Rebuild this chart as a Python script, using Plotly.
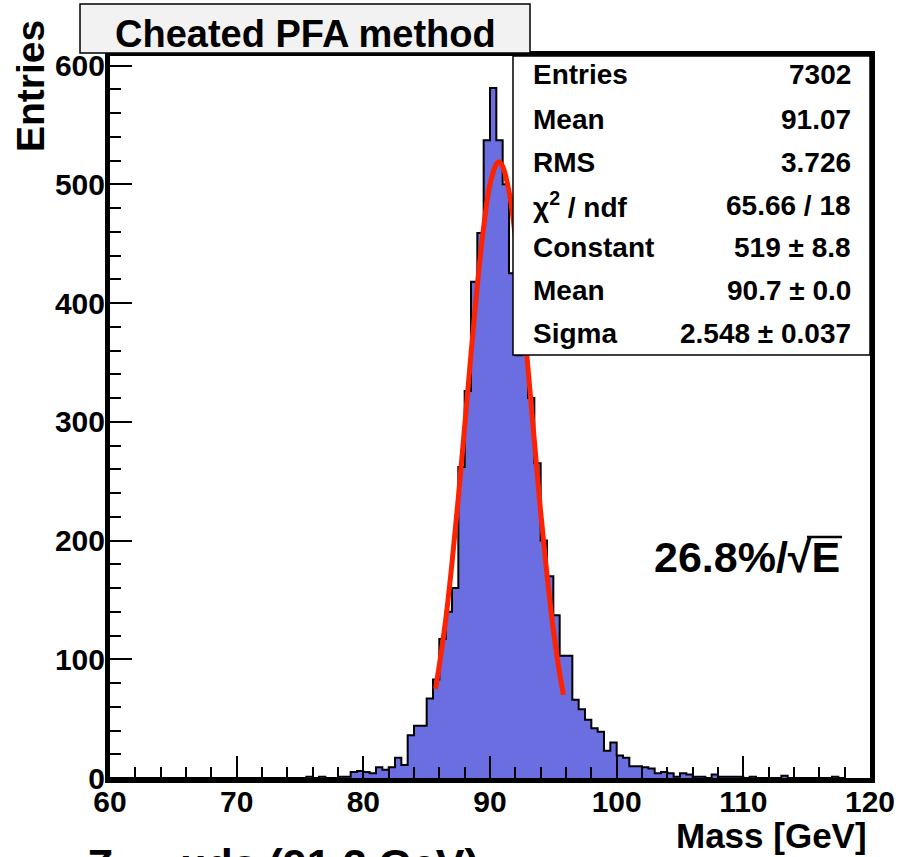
import numpy as np
import plotly.graph_objects as go

# ---------------- data ----------------
bin_edges = np.arange(60.0, 120.0 + 0.25, 0.5)   # 120 bins of 0.5 GeV
counts = [
    0, 0, 0, 0, 0, 0, 0, 0, 0, 0,            # 60.0 - 64.5
    0, 0, 0, 0, 0, 0, 0, 0, 0, 0,            # 65.0 - 69.5
    0, 0, 0, 0, 0, 0, 0, 0, 0, 0,            # 70.0 - 74.5
    0, 1, 0, 1, 0, 0, 1, 1, 5, 6,            # 75.0 - 79.5
    5, 4, 9, 7, 9, 17, 11, 36, 44, 44,       # 80.0 - 84.5
    67, 83, 117, 140, 160, 262, 326, 418, 459, 537,   # 85.0 - 89.5
    581, 537, 500, 425, 356, 365, 320, 265, 200, 170, # 90.0 - 94.5
    137, 103, 103, 66, 58, 49, 42, 39, 23, 30,        # 95.0 - 99.5
    19, 17, 10, 10, 9, 8, 4, 5, 4, 1,        # 100.0 - 104.5
    4, 3, 1, 1, 0, 3, 1, 1, 1, 1,            # 105.0 - 109.5
    0, 1, 0, 0, 0, 0, 2, 0, 0, 0,            # 110.0 - 114.5
    0, 0, 0, 0, 1, 0,                        # 115.0 - 119.5
]
fit_x = [85.7, 86.0, 86.5, 87.0, 87.5, 88.0, 88.5, 89.0, 89.5, 90.0, 90.5, 90.7,
         91.0, 91.5, 92.0, 92.5, 93.0, 93.5, 94.0, 94.5, 95.0, 95.5, 95.8]
fit_y = [75, 95, 133, 181, 236, 296, 357, 415, 464, 500, 517, 519,
         515, 494, 456, 404, 345, 284, 224, 171, 125, 88, 70]

stat_labels = ["Entries", "Mean", "RMS", "χ<sup>2</sup> / ndf", "Constant", "Mean", "Sigma"]
stat_values = ["7302", "91.07", "3.726", "65.66 / 18", "519 ± 8.8", "90.7 ± 0.0", "2.548 ± 0.037"]

x_tick_vals = [60, 70, 80, 90, 100, 110, 120]
y_tick_vals = [0, 100, 200, 300, 400, 500, 600]

# ---------------- layout geometry (pixels) ----------------
W, H = 899, 857
L, R, T, B = 110, 870, 56, 778
FONT = "Liberation Sans, Arial, Helvetica, sans-serif"


def px(x):
    return (x - L) / (R - L)


def py(y):
    return (B - y) / (B - T)


centers = (bin_edges[:-1] + bin_edges[1:]) / 2.0

fig = go.Figure()
fig.add_trace(go.Bar(x=centers, y=counts, width=0.5,
                     marker=dict(color="#6a6ee0", line=dict(width=0)),
                     hoverinfo="skip"))
fig.add_trace(go.Scatter(x=list(bin_edges), y=counts + [counts[-1]], mode="lines",
                         line=dict(color="black", width=2, shape="hv"),
                         hoverinfo="skip"))
fig.add_trace(go.Scatter(x=fit_x, y=fit_y, mode="lines",
                         line=dict(color="#ff2200", width=5, shape="spline"),
                         hoverinfo="skip"))

shapes = []
annotations = []

# title box
shapes.append(dict(type="rect", xref="paper", yref="paper",
                   x0=px(80), x1=px(530), y0=py(53), y1=py(4),
                   line=dict(color="black", width=1.5), fillcolor="#f2f2f2", layer="above"))
annotations.append(dict(xref="paper", yref="paper", x=px(305), y=py(34), text="Cheated PFA method",
                        showarrow=False, xanchor="center", yanchor="middle",
                        font=dict(family=FONT, size=38, color="black", weight="bold")))

# stats box
shapes.append(dict(type="rect", xref="paper", yref="paper",
                   x0=px(513), x1=px(870), y0=py(355), y1=py(56),
                   line=dict(color="black", width=1.5), fillcolor="white", layer="above"))
row_y = [75, 119, 162, 205, 247, 290, 333]
for lab, val, yy in zip(stat_labels, stat_values, row_y):
    annotations.append(dict(xref="paper", yref="paper", x=px(531), y=py(yy), text=lab,
                            showarrow=False, xanchor="left", yanchor="middle",
                            font=dict(family=FONT, size=28, color="black", weight="bold")))
    annotations.append(dict(xref="paper", yref="paper", x=px(853), y=py(yy), text=val,
                            showarrow=False, xanchor="right", yanchor="middle",
                            font=dict(family=FONT, size=28, color="black", weight="bold")))

# resolution label
annotations.append(dict(xref="paper", yref="paper", x=px(842), y=py(557), text="26.8%/√E",
                        showarrow=False, xanchor="right", yanchor="middle",
                        font=dict(family=FONT, size=43, color="black", weight="bold")))
shapes.append(dict(type="line", xref="paper", yref="paper",
                   x0=px(807), x1=px(842), y0=py(537), y1=py(537),
                   line=dict(color="black", width=2.5)))

# axis titles
annotations.append(dict(xref="paper", yref="paper", x=px(869), y=py(835), text="Mass [GeV]",
                        showarrow=False, xanchor="right", yanchor="middle",
                        font=dict(family=FONT, size=35, color="black", weight="bold")))
annotations.append(dict(xref="paper", yref="paper", x=px(30), y=py(18), text="Entries",
                        showarrow=False, xanchor="center", yanchor="top", textangle=-90,
                        font=dict(family=FONT, size=39, color="black", weight="bold")))

# cut-off caption at the bottom
annotations.append(dict(xref="paper", yref="paper", x=px(85), y=py(838), text="Z → uds (91.2 GeV)",
                        showarrow=False, xanchor="left", yanchor="top",
                        font=dict(family=FONT, size=43, color="black", weight="bold")))

axis_font = dict(family=FONT, size=30, color="black", weight="bold")

fig.update_layout(
    width=W, height=H,
    margin=dict(l=L, r=W - R, t=T, b=H - B, pad=0, autoexpand=False),
    paper_bgcolor="white", plot_bgcolor="white",
    showlegend=False, bargap=0,
    shapes=shapes, annotations=annotations,
    xaxis=dict(range=[60, 120], tickmode="array", tickvals=x_tick_vals,
               ticktext=[str(v) for v in x_tick_vals], automargin=False,
               ticks="inside", ticklen=22, tickwidth=2, tickcolor="black",
               ticklabelstandoff=-7,
               minor=dict(dtick=2, tick0=60, ticks="inside", ticklen=11, tickwidth=2, tickcolor="black"),
               showline=True, linewidth=5, linecolor="black", mirror=True,
               showgrid=False, zeroline=False, tickfont=axis_font),
    yaxis=dict(range=[0, 608], tickmode="array", tickvals=y_tick_vals,
               ticktext=[str(v) for v in y_tick_vals], automargin=False,
               ticks="inside", ticklen=22, tickwidth=2, tickcolor="black",
               ticklabelstandoff=-6,
               minor=dict(dtick=20, tick0=0, ticks="inside", ticklen=11, tickwidth=2, tickcolor="black"),
               showline=True, linewidth=5, linecolor="black", mirror=True,
               showgrid=False, zeroline=False, tickfont=axis_font),
)

fig.write_html("out.html", config={"displayModeBar": False},
               post_script="document.body.style.margin='0';document.body.style.overflow='hidden';")
